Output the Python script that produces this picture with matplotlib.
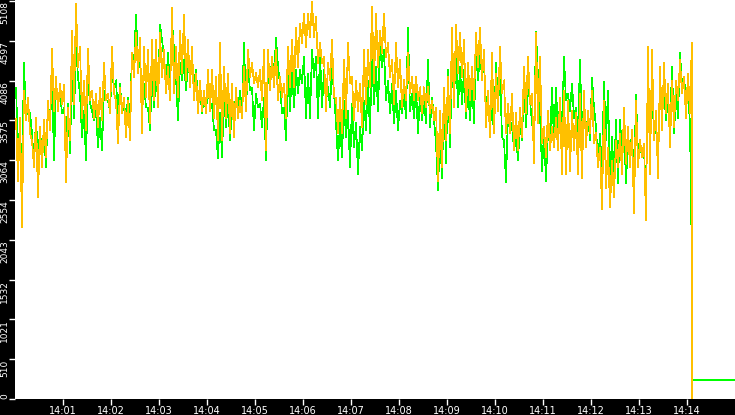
import numpy as np
import matplotlib
matplotlib.use('Agg')
import matplotlib.pyplot as plt

# readings every 2.5 s from 14:00:01, high then low inside each 5 s slot
orange = [
    3600, 2800, 3610, 2200, 3960, 3580, 3870, 3410, 3320, 2970, 3610, 2590, 3490, 2970, 3580, 3100,
    3830, 3450, 4500, 3700, 4130, 3700, 4050, 3790, 4030, 2780, 3740, 3320, 4730, 3790, 5070, 4260,
    4520, 3610, 4090, 3450, 4500, 3830, 3960, 3610, 3920, 3490, 4000, 3580, 4310, 3830, 3920, 3670,
    4520, 3920, 3830, 3280, 4000, 3670, 3870, 3360, 3830, 3320, 4440, 4130, 4700, 4180, 4640, 3410,
    4520, 3870, 4480, 3540, 4610, 3830, 4610, 3740, 4700, 4130, 4480, 3920, 4260, 3830, 5020, 3920,
    4520, 3870, 4730, 4180, 4930, 4090, 4610, 4000, 4520, 3830, 4180, 3670, 4090, 3700, 3960, 3670,
    4220, 3700, 4220, 3610, 4130, 3320, 4570, 3320, 4260, 3610, 4180, 3410, 4050, 3360, 4000, 3610,
    3830, 3610, 4260, 3700, 4480, 4130, 4310, 4050, 4180, 4000, 4220, 3830, 4480, 3190, 4480, 3960,
    4390, 4000, 4480, 3830, 4130, 3870, 4050, 3610, 4520, 4000, 4610, 4000, 4770, 4260, 4820, 4570,
    4950, 4520, 4950, 4640, 5100, 4640, 4900, 4310, 4570, 4310, 4390, 3700, 4310, 4090, 4610, 3870,
    3870, 3410, 3870, 3410, 4350, 3610, 4570, 4050, 4130, 3580, 4090, 3700, 4050, 3490, 4480, 3790,
    4480, 4000, 5030, 4050, 4950, 4260, 4730, 4440, 4950, 4390, 4570, 4130, 4350, 3790, 4570, 4000,
    4350, 3740, 4090, 3830, 4440, 3920, 4130, 3830, 4130, 3830, 4000, 3670, 4000, 3740, 4000, 3670,
    3830, 3580, 3740, 2800, 3700, 2970, 4000, 3320, 4130, 3410, 4770, 3740, 4800, 4180, 4700, 4130,
    4610, 3700, 4310, 3830, 4260, 3830, 4700, 4260, 4770, 4090, 4480, 3490, 3960, 3360, 4440, 3410,
    4180, 3700, 4520, 3920, 4090, 3410, 3790, 3410, 3920, 3190, 3670, 3190, 3740, 3360, 4260, 3670,
    4390, 3790, 3920, 3020, 4700, 3540, 4390, 3280, 3490, 3100, 3700, 3190, 3490, 3230, 3610, 3190,
    3870, 2890, 3960, 2890, 3830, 2930, 3700, 3190, 3670, 2890, 3920, 2840, 3960, 3230, 3700, 3410,
    3960, 3280, 3410, 2970, 3230, 2440, 3830, 2710, 3230, 2460, 3060, 2590, 3320, 2970, 3410, 2890,
    3740, 3020, 3490, 2970, 3450, 2380, 3830, 2970, 3320, 3100, 3280, 2290, 4520, 2890, 4480, 3320,
    3700, 2840, 4260, 3450, 4310, 3670, 4050, 3230, 4090, 3490, 4090, 3830, 4350, 3920, 4130, 3610,
    4180, 3670,
]
green = [
    3990, 3250, 3490, 2840, 4310, 3610, 3740, 3670, 3410, 3020, 3610, 3060, 3470, 3100, 3450, 2970,
    3830, 3490, 4180, 3060, 4000, 3830, 3920, 3670, 3740, 3280, 3790, 3160, 4260, 3610, 4570, 4130,
    3920, 3360, 3700, 3060, 4130, 3790, 3700, 3580, 3700, 3230, 3610, 3190, 3960, 3830, 3830, 3700,
    4260, 3960, 4090, 3610, 4050, 3670, 3790, 3610, 3870, 3640, 4440, 4310, 4930, 4310, 4350, 3830,
    4050, 3740, 3740, 3450, 4180, 3740, 4180, 3830, 4800, 4610, 4390, 4000, 4440, 4000, 4840, 4480,
    4130, 3580, 4310, 4090, 4350, 3960, 4310, 4130, 4260, 4050, 4220, 3830, 4000, 3670, 3870, 3700,
    4000, 3790, 3790, 3450, 3450, 3090, 3670, 3100, 3920, 3490, 3870, 3320, 3740, 3540, 3960, 3670,
    3960, 3700, 4570, 3740, 4260, 3960, 4000, 3450, 3920, 3740, 3790, 3490, 3870, 3060, 4260, 4000,
    4390, 4130, 4640, 4260, 4050, 3670, 3740, 3320, 4260, 3700, 4260, 3740, 4220, 3920, 4220, 4050,
    4390, 3610, 4180, 3610, 4480, 4130, 4390, 3610, 4440, 3740, 4220, 3830, 4000, 3740, 4260, 3920,
    3540, 3060, 3540, 3100, 3830, 3360, 3700, 2970, 3790, 3230, 3540, 2890, 3490, 3190, 3830, 3450,
    4090, 3410, 4480, 3790, 4260, 3700, 4520, 4260, 4480, 3830, 4090, 3670, 4050, 3540, 3960, 3450,
    3830, 3670, 3920, 3610, 4770, 3700, 3920, 3610, 4000, 3410, 3920, 3580, 3830, 3540, 4350, 3490,
    3870, 3580, 3280, 2680, 3410, 2840, 3960, 3020, 4220, 3230, 4350, 3830, 4480, 3740, 4260, 3790,
    4220, 3610, 4000, 3580, 4130, 3540, 4480, 4090, 4440, 4130, 4310, 3790, 3790, 3490, 3740, 3410,
    4310, 3740, 4220, 3360, 3320, 2780, 3670, 3410, 3540, 3190, 3360, 3060, 3540, 3320, 4050, 3490,
    4000, 3830, 3540, 3360, 4710, 4130, 3670, 2930, 3410, 2800, 3490, 3230, 4000, 3320, 4000, 3410,
    3830, 3410, 4390, 3830, 3920, 3700, 4050, 3610, 3740, 3410, 4350, 3410, 3830, 3320, 3670, 3320,
    4120, 3740, 3490, 3020, 3410, 2890, 4070, 3320, 3960, 2800, 3360, 2800, 3580, 2770, 3580, 3190,
    3490, 2770, 3360, 3100, 3450, 2710, 3900, 3150, 3280, 3100, 3190, 2590, 3960, 3320, 4000, 3410,
    3450, 3190, 4090, 3670, 4000, 3580, 3870, 3450, 4260, 3410, 3920, 3610, 4440, 4050, 4130, 3830,
    3920, 3540,
]

# last seconds: both series collapse, green settles on a low flat value
orange_end_t = [846, 846]
orange_end = [4570, 0]
green_end_t = [845.3, 845.8, 846, 846.9, 847, 900]
green_end = [2260, 2200, 130, 130, 245, 245]

minute_ticks = [60, 120, 180, 240, 300, 360, 420, 480, 540, 600, 660, 720, 780, 840]
minute_labels = ['14:01', '14:02', '14:03', '14:04', '14:05', '14:06', '14:07',
                 '14:08', '14:09', '14:10', '14:11', '14:12', '14:13', '14:14']
value_ticks = [0, 510, 1021, 1532, 2043, 2554, 3064, 3575, 4086, 4597, 5108]

t = 1.25 + 2.5 * np.arange(len(orange))
t_orange = np.r_[t, orange_end_t]
v_orange = np.r_[orange, orange_end]
t_green = np.r_[t, green_end_t]
v_green = np.r_[green, green_end]

fig = plt.figure(figsize=(7.35, 4.15), dpi=100, facecolor='black')
ax = fig.add_axes([15 / 735, 16 / 415, 720 / 735, 399 / 415])
ax.set_facecolor('white')

ax.plot(t_green, v_green, color='#00ff00', lw=0.5, antialiased=False)
ax.plot(t_orange, v_orange, color='#ffc000', lw=0.5, antialiased=False)

ax.set_xlim(0, 900)
ax.set_ylim(0, 5121)

for s in ax.spines.values():
    s.set_visible(False)

ax.set_xticks(minute_ticks)
ax.set_xticklabels(minute_labels)
ax.set_yticks(value_ticks)
ax.set_yticklabels([str(v) for v in value_ticks], rotation=90)
ax.tick_params(colors='white', length=4, width=1, pad=1, labelsize=7)
ax.tick_params(axis='y', pad=0, labelsize=6.5)
for i, lab in enumerate(ax.get_yticklabels()):
    lab.set_va('bottom' if i == 0 else 'top')

fig.savefig('out.png', dpi=100, facecolor='black')
